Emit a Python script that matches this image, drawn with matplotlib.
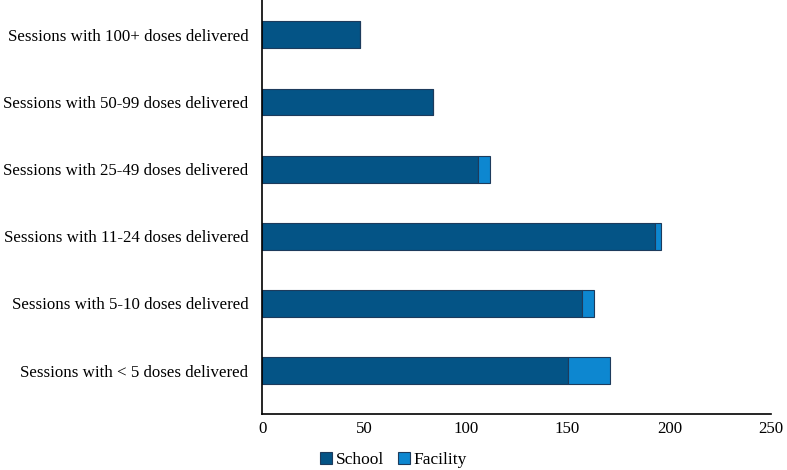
import matplotlib.pyplot as plt
import numpy as np

categories = [
    "Sessions with < 5 doses delivered",
    "Sessions with 5-10 doses delivered",
    "Sessions with 11-24 doses delivered",
    "Sessions with 25-49 doses delivered",
    "Sessions with 50-99 doses delivered",
    "Sessions with 100+ doses delivered",
]
school = [150, 157, 193, 106, 84, 48]
facility = [21, 6, 3, 6, 0, 0]

plt.rcParams["font.family"] = ["Liberation Serif", "DejaVu Serif"]

fig = plt.figure(figsize=(7.87, 4.70), dpi=100)
ax = fig.add_axes([0.333, 0.12, 0.647, 0.88])

y = np.arange(len(categories))
h = 0.4
ax.barh(y, school, height=h, color="#045486", edgecolor="#1d3b5c", linewidth=0.8, label="School")
ax.barh(y, facility, left=school, height=h, color="#0d87d0", edgecolor="#1d3b5c", linewidth=0.8, label="Facility")

ax.set_xlim(0, 250)
ax.set_ylim(-0.64, 5.52)
ax.set_xticks([0, 50, 100, 150, 200, 250])
ax.set_yticks(y)
ax.set_yticklabels(categories)
ax.tick_params(axis="both", length=0, labelsize=12.2)
ax.tick_params(axis="x", pad=5)
ax.tick_params(axis="y", pad=10)
for s in ["top", "right"]:
    ax.spines[s].set_visible(False)
for s in ["left", "bottom"]:
    ax.spines[s].set_color("black")
    ax.spines[s].set_linewidth(1.2)

fig.legend(loc="center", bbox_to_anchor=(0.5, 0.022), ncol=2, frameon=False,
           fontsize=12.5, handlelength=0.7, handleheight=0.7, handletextpad=0.2,
           columnspacing=0.8)

fig.savefig("out.png", dpi=100)
